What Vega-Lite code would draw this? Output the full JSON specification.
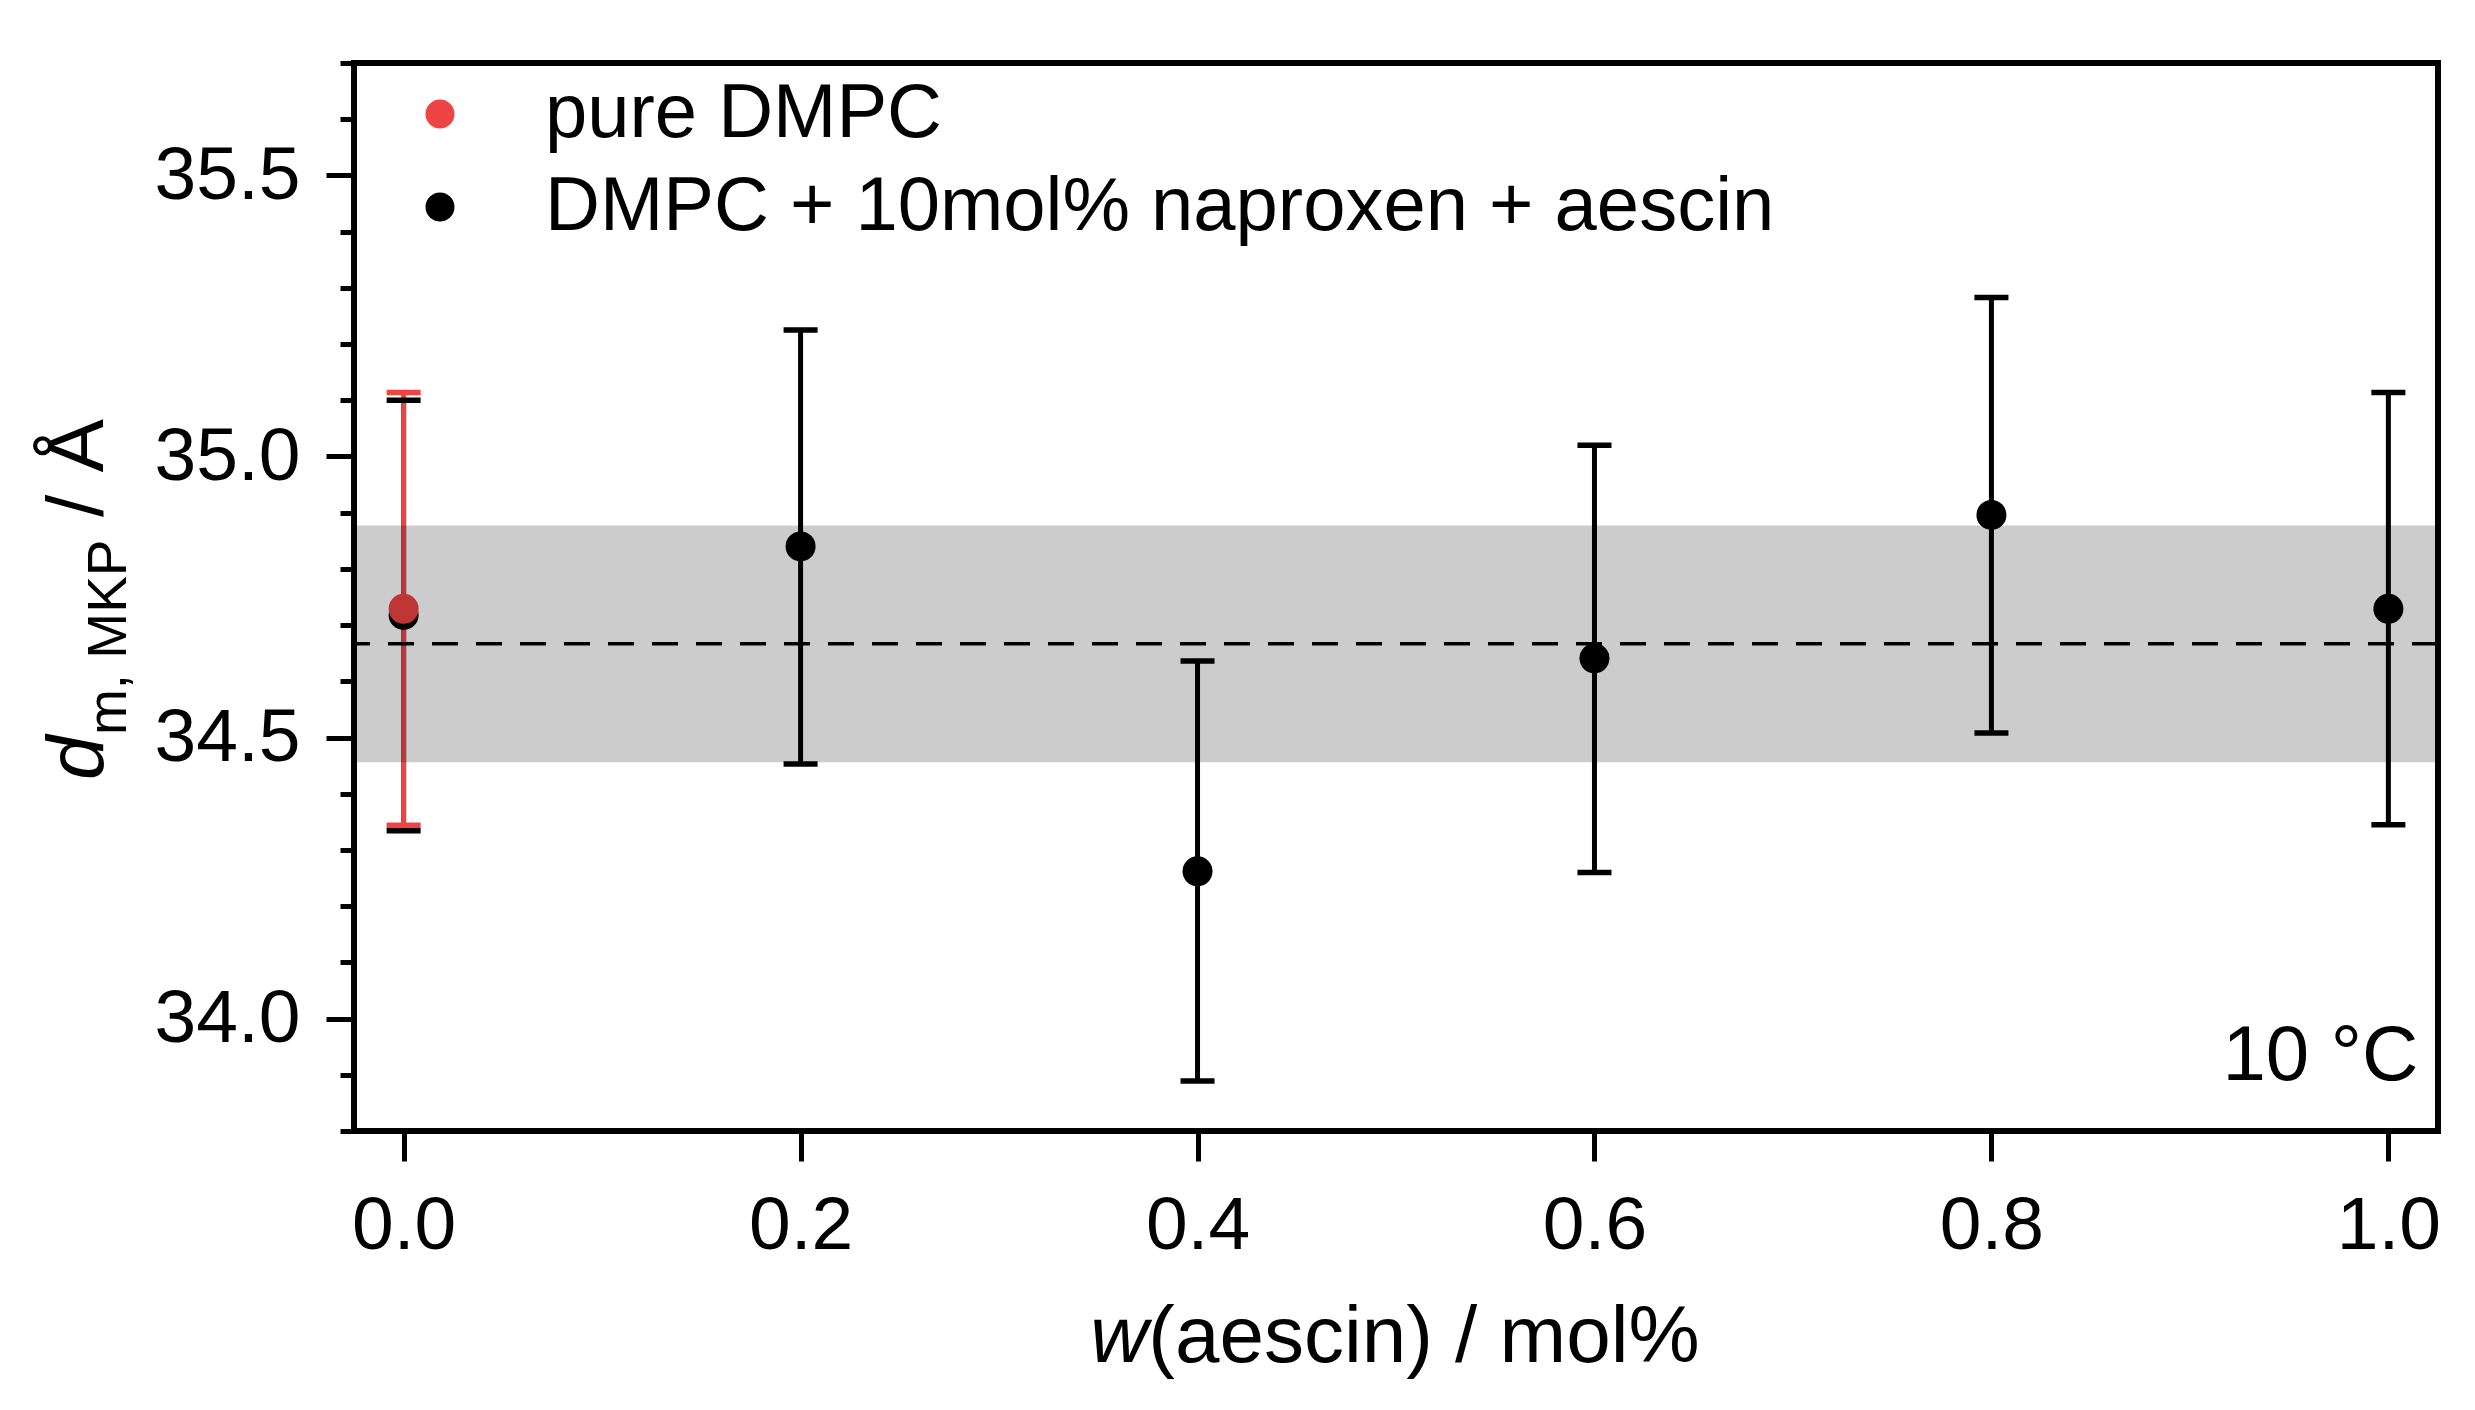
{
  "$schema": "https://vega.github.io/schema/vega-lite/v6.json",
  "width": 2084,
  "height": 1068,
  "autosize": {"type": "none"},
  "padding": {"left": 354, "top": 63, "right": 37, "bottom": 279},
  "background": "white",
  "config": {
    "view": {"stroke": "black", "strokeWidth": 6},
    "font": "Liberation Sans"
  },
  "datasets": {
    "pts": [
      {"x": 0.0, "y": 34.718, "lo": 34.334, "hi": 35.100, "series": "DMPC + 10mol% naproxen + aescin"},
      {"x": 0.2, "y": 34.840, "lo": 34.453, "hi": 35.225, "series": "DMPC + 10mol% naproxen + aescin"},
      {"x": 0.4, "y": 34.262, "lo": 33.889, "hi": 34.636, "series": "DMPC + 10mol% naproxen + aescin"},
      {"x": 0.6, "y": 34.641, "lo": 34.260, "hi": 35.020, "series": "DMPC + 10mol% naproxen + aescin"},
      {"x": 0.8, "y": 34.896, "lo": 34.508, "hi": 35.283, "series": "DMPC + 10mol% naproxen + aescin"},
      {"x": 1.0, "y": 34.729, "lo": 34.345, "hi": 35.114, "series": "DMPC + 10mol% naproxen + aescin"},
      {"x": 0.0, "y": 34.729, "lo": 34.344, "hi": 35.114, "series": "pure DMPC"}
    ]
  },
  "resolve": {"axis": {"y": "independent"}},
  "layer": [
    {
      "data": {"name": "pts"},
      "mark": {"type": "rule", "strokeWidth": 5},
      "encoding": {
        "x": {"field": "x", "type": "quantitative", "scale": {"domain": [-0.025, 1.025], "nice": false, "zero": false},
          "axis": {"orient": "bottom", "values": [0, 0.2, 0.4, 0.6, 0.8, 1.0], "format": ".1f", "title": null, "domain": false, "grid": false,
            "tickSize": 30, "tickWidth": 5, "tickColor": "black", "labelFontSize": 75, "labelFont": "Liberation Sans", "labelColor": "black",
            "labelPadding": 28, "labelFlush": false, "labelOverlap": false, "labelBound": false}},
        "y": {"field": "lo", "type": "quantitative", "scale": {"domain": [33.8, 35.7], "nice": false, "zero": false},
          "axis": {"orient": "left", "values": [34.0, 34.5, 35.0, 35.5], "format": ".1f", "title": null, "domain": false, "grid": false,
            "tickSize": 28, "tickWidth": 5, "tickColor": "black", "labelFontSize": 75, "labelFont": "Liberation Sans", "labelColor": "black",
            "labelPadding": 26, "labelFlush": false, "labelOverlap": false, "labelBound": false}},
        "y2": {"field": "hi"},
        "color": {"condition": {"test": "datum.series === 'pure DMPC'", "value": "#ef4444"}, "value": "#000000"}
      }
    },
    {
      "data": {"name": "pts"},
      "mark": {"type": "tick", "orient": "horizontal", "size": 34, "thickness": 5.5, "opacity": 1},
      "encoding": {
        "x": {"field": "x", "type": "quantitative", "scale": {"domain": [-0.025, 1.025]}},
        "y": {"field": "lo", "type": "quantitative", "scale": {"domain": [33.8, 35.7]}, "axis": null},
        "color": {"condition": {"test": "datum.series === 'pure DMPC'", "value": "#ef4444"}, "value": "#000000"}
      }
    },
    {
      "data": {"name": "pts"},
      "mark": {"type": "tick", "orient": "horizontal", "size": 34, "thickness": 5.5, "opacity": 1},
      "encoding": {
        "x": {"field": "x", "type": "quantitative", "scale": {"domain": [-0.025, 1.025]}},
        "y": {"field": "hi", "type": "quantitative", "scale": {"domain": [33.8, 35.7]}, "axis": null},
        "color": {"condition": {"test": "datum.series === 'pure DMPC'", "value": "#ef4444"}, "value": "#000000"}
      }
    },
    {
      "data": {"name": "pts"},
      "mark": {"type": "point", "shape": "circle", "filled": true, "size": 900, "opacity": 1, "strokeWidth": 0},
      "encoding": {
        "x": {"field": "x", "type": "quantitative", "scale": {"domain": [-0.025, 1.025]}},
        "y": {"field": "y", "type": "quantitative", "scale": {"domain": [33.8, 35.7]}, "axis": null},
        "color": {"field": "series", "type": "nominal",
          "scale": {"domain": ["pure DMPC", "DMPC + 10mol% naproxen + aescin"], "range": ["#ef4444", "#000000"]},
          "legend": {"orient": "none", "legendX": 48, "legendY": 13, "title": null, "symbolType": "circle", "symbolSize": 841,
            "symbolStrokeWidth": 0, "symbolOpacity": 1, "labelFontSize": 76, "labelFont": "Liberation Sans", "labelColor": "black",
            "labelOffset": 67, "rowPadding": 17, "padding": 0, "labelLimit": 3000}}
      }
    },
    {
      "data": {"values": [{}]},
      "mark": {"type": "rect", "color": "black", "opacity": 0.2},
      "encoding": {
        "x": {"value": 0},
        "x2": {"value": "width"},
        "y": {"datum": 34.877, "type": "quantitative", "scale": {"domain": [33.8, 35.7]},
          "axis": {"orient": "left", "values": [33.8, 33.9, 34.1, 34.2, 34.3, 34.4, 34.6, 34.7, 34.8, 34.9, 35.1, 35.2, 35.3, 35.4, 35.6, 35.7],
            "labels": false, "title": null, "domain": false, "grid": false, "tickSize": 14, "tickWidth": 5, "tickColor": "black"}},
        "y2": {"datum": 34.456}
      }
    },
    {
      "data": {"values": [{}]},
      "mark": {"type": "rule", "color": "black", "strokeWidth": 3.5, "strokeDash": [26, 18]},
      "encoding": {
        "y": {"datum": 34.667, "type": "quantitative", "scale": {"domain": [33.8, 35.7]}, "axis": null}
      }
    },
    {
      "data": {"values": [{}]},
      "mark": {"type": "text", "text": "d", "font": "Liberation Sans", "fontStyle": "italic", "fontSize": 80, "angle": 270, "align": "left", "baseline": "alphabetic", "color": "black"},
      "encoding": {
        "x": {"datum": -0.1514, "type": "quantitative", "scale": {"domain": [-0.025, 1.025]}},
        "y": {"datum": 34.4244, "type": "quantitative", "scale": {"domain": [33.8, 35.7]}, "axis": null}
      }
    },
    {
      "data": {"values": [{}]},
      "mark": {"type": "text", "text": "m, MKP", "font": "Liberation Sans", "fontSize": 55, "angle": 270, "align": "left", "baseline": "alphabetic", "color": "black"},
      "encoding": {
        "x": {"datum": -0.1398, "type": "quantitative", "scale": {"domain": [-0.025, 1.025]}},
        "y": {"datum": 34.5044, "type": "quantitative", "scale": {"domain": [33.8, 35.7]}, "axis": null}
      }
    },
    {
      "data": {"values": [{}]},
      "mark": {"type": "text", "text": "/ Å", "font": "Liberation Sans", "fontSize": 80, "angle": 270, "align": "left", "baseline": "alphabetic", "color": "black"},
      "encoding": {
        "x": {"datum": -0.1514, "type": "quantitative", "scale": {"domain": [-0.025, 1.025]}},
        "y": {"datum": 34.8923, "type": "quantitative", "scale": {"domain": [33.8, 35.7]}, "axis": null}
      }
    },
    {
      "data": {"values": [{}]},
      "mark": {"type": "text", "text": "w", "font": "Liberation Sans", "fontStyle": "italic", "fontSize": 80, "align": "left", "baseline": "alphabetic", "color": "black"},
      "encoding": {
        "x": {"datum": 0.3459, "type": "quantitative", "scale": {"domain": [-0.025, 1.025]}},
        "y": {"datum": 33.3888, "type": "quantitative", "scale": {"domain": [33.8, 35.7]}, "axis": null}
      }
    },
    {
      "data": {"values": [{}]},
      "mark": {"type": "text", "text": "(aescin) / mol%", "font": "Liberation Sans", "fontSize": 80, "align": "left", "baseline": "alphabetic", "color": "black"},
      "encoding": {
        "x": {"datum": 0.3752, "type": "quantitative", "scale": {"domain": [-0.025, 1.025]}},
        "y": {"datum": 33.3888, "type": "quantitative", "scale": {"domain": [33.8, 35.7]}, "axis": null}
      }
    },
    {
      "data": {"values": [{}]},
      "mark": {"type": "text", "text": "10 °C", "font": "Liberation Sans", "fontSize": 78, "align": "right", "baseline": "alphabetic", "color": "black"},
      "encoding": {
        "x": {"datum": 1.0151, "type": "quantitative", "scale": {"domain": [-0.025, 1.025]}},
        "y": {"datum": 33.8906, "type": "quantitative", "scale": {"domain": [33.8, 35.7]}, "axis": null}
      }
    }
  ]
}
